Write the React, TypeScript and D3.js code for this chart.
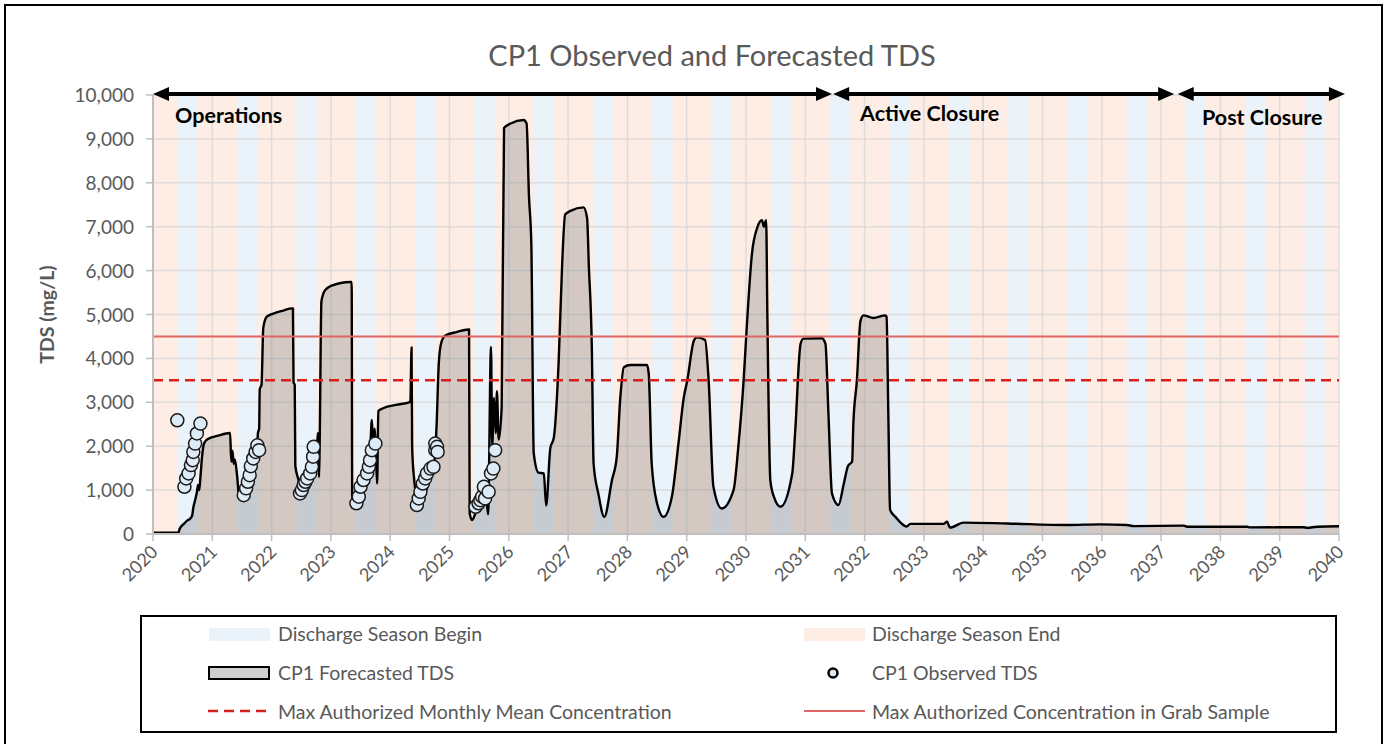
import React from "react";
import * as d3 from "d3";

// CP1 forecasted TDS (mg/L) as [decimal year, value]
const forecastTDS: [number, number][] = [
  [2020.0, 30], [2020.43, 30], [2020.45, 120], [2020.52, 230], [2020.58, 310], [2020.62, 340],
  [2020.66, 420], [2020.68, 600], [2020.71, 770], [2020.74, 950], [2020.76, 1120], [2020.78, 1000],
  [2020.8, 1300], [2020.83, 1800], [2020.86, 2060], [2020.92, 2160], [2021.1, 2240], [2021.3, 2300],
  [2021.32, 1650], [2021.34, 1900], [2021.36, 1600], [2021.38, 1700], [2021.42, 1300], [2021.45, 850],
  [2021.5, 770], [2021.58, 800], [2021.66, 1150], [2021.72, 1600], [2021.75, 1800], [2021.77, 2300],
  [2021.79, 2400], [2021.8, 3300], [2021.83, 3400], [2021.86, 4700], [2021.92, 4950], [2022.03, 5020],
  [2022.2, 5090], [2022.34, 5140], [2022.36, 5140], [2022.37, 3450], [2022.39, 3400], [2022.4, 1550],
  [2022.45, 1250], [2022.51, 960], [2022.58, 1050], [2022.65, 1230], [2022.72, 1550], [2022.76, 1800],
  [2022.78, 2300], [2022.8, 1300], [2022.81, 2000], [2022.84, 5300], [2022.9, 5550], [2023.0, 5650],
  [2023.33, 5740], [2023.35, 5740], [2023.36, 700], [2023.44, 720], [2023.55, 1100], [2023.62, 1400],
  [2023.66, 1800], [2023.69, 2600], [2023.71, 2100], [2023.74, 2400], [2023.76, 1800], [2023.78, 1150],
  [2023.8, 2800], [2023.89, 2870], [2024.1, 2940], [2024.34, 3010], [2024.36, 4250], [2024.37, 2000],
  [2024.4, 1300], [2024.48, 700], [2024.56, 850], [2024.66, 1200], [2024.73, 1450], [2024.78, 2400],
  [2024.82, 3900], [2024.86, 4350], [2024.93, 4520], [2025.12, 4600], [2025.32, 4660], [2025.33, 4660],
  [2025.34, 480], [2025.38, 320], [2025.46, 550], [2025.62, 850], [2025.65, 450], [2025.7, 4260],
  [2025.72, 2000], [2025.75, 3100], [2025.78, 2300], [2025.8, 3250], [2025.83, 2150], [2025.88, 2900],
  [2025.92, 9250], [2026.03, 9350], [2026.25, 9430], [2026.3, 9350], [2026.34, 7700], [2026.38, 6600],
  [2026.42, 1850], [2026.5, 1400], [2026.59, 1380], [2026.63, 650], [2026.7, 1950], [2026.76, 2200],
  [2026.84, 3900], [2026.9, 6150], [2026.95, 7280], [2027.04, 7360], [2027.26, 7440], [2027.32, 7200],
  [2027.35, 6100], [2027.4, 4260], [2027.43, 1600], [2027.51, 920], [2027.61, 390], [2027.74, 1230],
  [2027.82, 1750], [2027.88, 3100], [2027.94, 3800], [2028.05, 3850], [2028.33, 3850], [2028.36, 3650],
  [2028.41, 1600], [2028.5, 700], [2028.61, 390], [2028.75, 850], [2028.86, 2050], [2028.95, 3100],
  [2029.01, 3500], [2029.12, 4400], [2029.17, 4480], [2029.31, 4420], [2029.37, 3500], [2029.45, 1080],
  [2029.59, 580], [2029.79, 1000], [2029.87, 1980], [2029.96, 3500], [2030.01, 4650], [2030.1, 6380],
  [2030.19, 6980], [2030.27, 7150], [2030.3, 7000], [2030.34, 7150], [2030.36, 5000], [2030.41, 1230],
  [2030.47, 850], [2030.58, 620], [2030.78, 1380], [2030.83, 2350], [2030.92, 4330], [2030.97, 4450],
  [2031.28, 4460], [2031.34, 4330], [2031.39, 2750], [2031.45, 920], [2031.56, 660], [2031.65, 1150],
  [2031.72, 1550], [2031.79, 1650], [2031.81, 2500], [2031.87, 3500], [2031.93, 4850], [2031.98, 4980],
  [2032.15, 4920], [2032.35, 4980], [2032.37, 4950], [2032.4, 2740], [2032.43, 550], [2032.52, 390],
  [2032.71, 170], [2032.77, 230], [2033.33, 230], [2033.39, 280], [2033.44, 145], [2033.67, 260],
  [2034.4, 240], [2035.41, 205], [2035.97, 220], [2036.42, 205], [2036.54, 180], [2037.38, 190],
  [2037.44, 165], [2038.45, 165], [2038.5, 150], [2039.4, 155], [2039.46, 140], [2039.63, 165],
  [2040.0, 175],
];

// CP1 observed TDS grab samples
const observedTDS: [number, number][] = [
  [2020.41, 2590], [2020.53, 1075], [2020.56, 1265], [2020.6, 1380], [2020.64, 1570], [2020.67, 1680],
  [2020.68, 1870], [2020.71, 2060], [2020.74, 2290], [2020.8, 2515],
  [2021.53, 885], [2021.57, 1040], [2021.6, 1190], [2021.63, 1340], [2021.65, 1545], [2021.69, 1720],
  [2021.73, 1870], [2021.76, 2020], [2021.79, 1910],
  [2022.48, 925], [2022.51, 1000], [2022.54, 1115], [2022.57, 1190], [2022.6, 1265], [2022.65, 1380],
  [2022.68, 1530], [2022.7, 1760], [2022.71, 1985],
  [2023.43, 700], [2023.47, 850], [2023.5, 1075], [2023.55, 1230], [2023.61, 1380], [2023.64, 1530],
  [2023.66, 1680], [2023.69, 1910], [2023.75, 2060],
  [2024.45, 660], [2024.48, 810], [2024.51, 960], [2024.55, 1150], [2024.59, 1265], [2024.62, 1380],
  [2024.68, 1490], [2024.73, 1530], [2024.76, 1910], [2024.76, 2060], [2024.79, 1985], [2024.8, 1870],
  [2025.44, 620], [2025.49, 700], [2025.52, 770], [2025.55, 850], [2025.58, 1075], [2025.6, 810],
  [2025.66, 960], [2025.7, 1380], [2025.74, 1490], [2025.77, 1910],
];

const seasonYears = d3.range(2020, 2040);
const beginSeason: [number, number] = [0.42, 0.76]; // fraction of year: discharge season begin
const phaseNames = ["Operations", "Active Closure", "Post Closure"];
const phaseStart = [2020.0, 2031.47, 2037.28];
const phaseEnd = [2031.45, 2037.22, 2040.1];
const monthlyMeanLimit = 3500;
const grabSampleLimit = 4500;
const yTicks = d3.range(0, 10001, 1000);
const xTicks = d3.range(2020, 2041);

const FONT = "Lato, 'Open Sans', sans-serif";
const GREY = "#595959";
const BLUE = "#eaf2fa";
const ORANGE = "#fdede4";

export default function App() {
  const x = d3.scaleLinear().domain([2020, 2040]).range([153, 1339]);
  const y = d3.scaleLinear().domain([0, 10000]).range([534, 95]);

  const area = d3.area<[number, number]>().x(d => x(d[0])).y0(y(0)).y1(d => y(d[1])).curve(d3.curveMonotoneX);
  const line = d3.line<[number, number]>().x(d => x(d[0])).y(d => y(d[1])).curve(d3.curveMonotoneX);
  const fmt = d3.format(",");

  const arrow = (x1: number, x2: number, yy: number) => {
    const h = 16, w = 7;
    return (
      <g>
        <line x1={x1 + h - 2} x2={x2 - h + 2} y1={yy} y2={yy} stroke="#000" strokeWidth={4} />
        <path d={`M${x1},${yy} L${x1 + h},${yy - w} L${x1 + h},${yy + w} Z`} fill="#000" />
        <path d={`M${x2},${yy} L${x2 - h},${yy - w} L${x2 - h},${yy + w} Z`} fill="#000" />
      </g>
    );
  };

  return (
    <svg width={1389} height={744} style={{ position: "absolute", left: 0, top: 0, background: "#fff" }}
      fontFamily={FONT}>
      <rect x={5} y={5} width={1377} height={800} fill="#fff" stroke="#000" strokeWidth={2} />
      <text x={712} y={66} textAnchor="middle" fontSize={29} fill={GREY}>CP1 Observed and Forecasted TDS</text>

      {/* season bands */}
      <rect x={x(2020)} y={y(10000)} width={x(2040) - x(2020)} height={y(0) - y(10000)} fill={ORANGE} />
      {seasonYears.map(yr => (
        <rect key={yr} x={x(yr + beginSeason[0])} y={y(10000)}
          width={x(yr + beginSeason[1]) - x(yr + beginSeason[0])} height={y(0) - y(10000)} fill={BLUE} />
      ))}

      {/* gridlines */}
      {yTicks.map(t => (
        <line key={"gy" + t} x1={x(2020)} x2={x(2040)} y1={y(t)} y2={y(t)} stroke="#d9d9d9" strokeWidth={1.5} opacity={0.8} />
      ))}
      {xTicks.map(t => (
        <line key={"gx" + t} x1={x(t)} x2={x(t)} y1={y(0)} y2={y(10000)} stroke="#d9d9d9" strokeWidth={1.5} opacity={0.8} />
      ))}

      {/* forecast */}
      <path d={area(forecastTDS) || ""} fill="#808080" fillOpacity={0.34} />
      <path d={line(forecastTDS) || ""} fill="none" stroke="#000" strokeWidth={2.4} strokeLinejoin="round" />

      {/* limits */}
      <line x1={x(2020)} x2={x(2040)} y1={y(grabSampleLimit)} y2={y(grabSampleLimit)} stroke="#e06666" strokeWidth={2} />
      <line x1={x(2020)} x2={x(2040)} y1={y(monthlyMeanLimit)} y2={y(monthlyMeanLimit)} stroke="#d61f1f" strokeWidth={2.5} strokeDasharray="10,6" />

      {/* observed */}
      {observedTDS.map((d, i) => (
        <circle key={i} cx={x(d[0])} cy={y(d[1])} r={6.5} fill="#ddebf7" stroke="#1a1a1a" strokeWidth={1.5} />
      ))}

      {/* axes */}
      <line x1={x(2020)} x2={x(2040)} y1={y(0)} y2={y(0)} stroke="#bfbfbf" strokeWidth={2} />
      <line x1={x(2020)} x2={x(2020)} y1={y(0)} y2={y(10000)} stroke="#bfbfbf" strokeWidth={2} />
      {yTicks.map(t => (
        <g key={"ty" + t}>
          <line x1={x(2020) - 7} x2={x(2020)} y1={y(t)} y2={y(t)} stroke="#bfbfbf" strokeWidth={1.5} />
          <text x={x(2020) - 19} y={y(t) + 7} textAnchor="end" fontSize={19} fill={GREY}>{fmt(t)}</text>
        </g>
      ))}
      {xTicks.map(t => (
        <g key={"tx" + t}>
          <line x1={x(t)} x2={x(t)} y1={y(0)} y2={y(0) + 7} stroke="#bfbfbf" strokeWidth={1.5} />
          <text transform={`translate(${x(t) + 6},${y(0) + 19}) rotate(-45)`} textAnchor="end" fontSize={18} fill={GREY}>{t}</text>
        </g>
      ))}
      <text transform={`translate(54,${(y(0) + y(10000)) / 2}) rotate(-90)`} textAnchor="middle" fontSize={19.5}
        fontWeight="bold" fill={GREY}>TDS (mg/L)</text>

      {/* phases */}
      {phaseNames.map((p, i) => (
        <g key={p}>{arrow(x(phaseStart[i]), Math.min(x(phaseEnd[i]), 1345), 94)}</g>
      ))}
      <text x={175} y={123} fontSize={21.5} fontWeight="bold" fill="#000">{phaseNames[0]}</text>
      <text x={860} y={121} fontSize={21.5} fontWeight="bold" fill="#000">{phaseNames[1]}</text>
      <text x={1202} y={125} fontSize={21.5} fontWeight="bold" fill="#000">{phaseNames[2]}</text>

      {/* legend */}
      <rect x={141} y={616} width={1195} height={116} fill="#fff" stroke="#000" strokeWidth={2} />
      <rect x={209} y={628} width={61} height={13} fill={BLUE} />
      <text x={278} y={641} fontSize={19.5} fill={GREY}>Discharge Season Begin</text>
      <rect x={804} y={628} width={61} height={13} fill={ORANGE} />
      <text x={872} y={641} fontSize={19.5} fill={GREY}>Discharge Season End</text>
      <rect x={209} y={667} width={60} height={12} fill="#d0cece" stroke="#000" strokeWidth={2} />
      <text x={278} y={680} fontSize={19.5} fill={GREY}>CP1 Forecasted TDS</text>
      <circle cx={833} cy={673} r={4.5} fill="#ddebf7" stroke="#000" strokeWidth={2.5} />
      <text x={872} y={680} fontSize={19.5} fill={GREY}>CP1 Observed TDS</text>
      <line x1={208} x2={270} y1={711} y2={711} stroke="#d61f1f" strokeWidth={2.5} strokeDasharray="10,6" />
      <text x={278} y={719} fontSize={19.5} fill={GREY}>Max Authorized Monthly Mean Concentration</text>
      <line x1={804} x2={865} y1={711} y2={711} stroke="#e06666" strokeWidth={2} />
      <text x={872} y={719} fontSize={19.5} fill={GREY}>Max Authorized Concentration in Grab Sample</text>
    </svg>
  );
}
